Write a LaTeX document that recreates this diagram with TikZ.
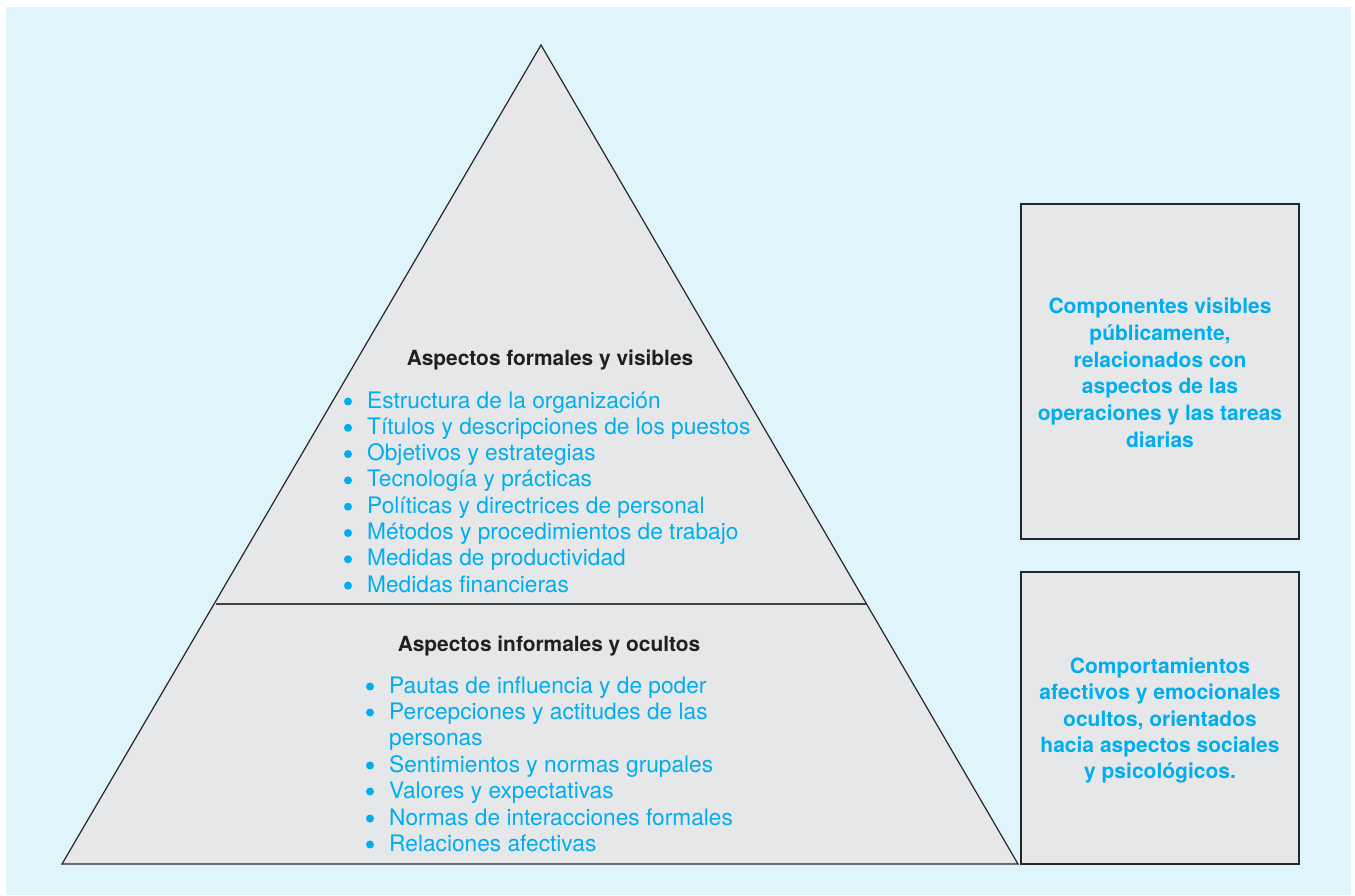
\documentclass[tikz,border=0pt]{standalone}
\usepackage{fontspec}
\setmainfont{TeX Gyre Heros}
\definecolor{bgblue}{RGB}{224,244,251}
\definecolor{pgray}{RGB}{230,231,233}
\definecolor{tcyan}{RGB}{0,174,239}
\definecolor{tdark}{RGB}{35,31,32}
\begin{document}
\begin{tikzpicture}[x=1pt,y=-1pt,
  item/.style={anchor=base west,inner sep=0pt,text=tcyan,font=\fontsize{22.7}{26}\selectfont},
  bul/.style={circle,fill=tcyan,inner sep=0pt,minimum size=8pt},
  ttl/.style={anchor=base,inner sep=0pt,text=tdark,font=\fontsize{20.9}{25}\selectfont\bfseries},
  boxline/.style={anchor=base,inner sep=0pt,text=tcyan,font=\fontsize{21}{26}\selectfont\bfseries},
  sidebox/.style={draw=black!85,line width=1.4pt,fill=pgray,minimum width=278pt,inner sep=0pt}
]
\useasboundingbox (0,0) rectangle (1355,895);
\fill[bgblue] (6,7) rectangle (1351,895);
% pyramid
\coordinate (apex) at (541,45);
\coordinate (bl) at (62,864);
\coordinate (br) at (1018,864);
\coordinate (dl) at (216,604);
\coordinate (dr) at (866,604);
\filldraw[fill=pgray,draw=black!85,line width=1.2pt,line join=miter] (apex) -- (br) -- (bl) -- cycle;
\draw[black!75,line width=1.3pt] (dl) -- (dr);
% upper section
\node[ttl] (t1) at (550,365) {Aspectos formales y visibles};
\foreach \txt [count=\i from 0] in {Estructura de la organización,Títulos y descripciones de los puestos,Objetivos y estrategias,Tecnología y prácticas,Políticas y directrices de personal,Métodos y procedimientos de trabajo,Medidas de productividad,Medidas financieras}{
  \node[bul] (ub\i) at (348,401.5+26.3*\i) {};
  \node[item] (ui\i) at (367,408+26.3*\i) {\txt};
}
% lower section
\node[ttl] (t2) at (549,651) {Aspectos informales y ocultos};
\foreach \y/\b/\txt [count=\i] in {693/1/Pautas de influencia y de poder,719/1/Percepciones y actitudes de las,745/0/personas,772/1/Sentimientos y normas grupales,798/1/Valores y expectativas,825/1/Normas de interacciones formales,851/1/Relaciones afectivas}{
  \ifnum\b=1 \node[bul] (lb\i) at (370,\y-6.5) {};\fi
  \node[item] (li\i) at (389,\y) {\txt};
}
% side boxes
\node[sidebox,minimum height=335pt] (box1) at (1160,371.5) {};
\node[sidebox,minimum height=292pt] (box2) at (1160,718) {};
\node[boxline] (b1l1) at (box1.center |- 0,313) {Componentes visibles};
\node[boxline] (b1l2) at (box1.center |- 0,340) {públicamente,};
\node[boxline] (b1l3) at (box1.center |- 0,367) {relacionados con};
\node[boxline] (b1l4) at (box1.center |- 0,393) {aspectos de las};
\node[boxline] (b1l5) at (box1.center |- 0,420) {operaciones y las tareas};
\node[boxline] (b1l6) at (box1.center |- 0,447) {diarias};
\node[boxline] (b2l1) at (box2.center |- 0,673) {Comportamientos};
\node[boxline] (b2l2) at (box2.center |- 0,699) {afectivos y emocionales};
\node[boxline] (b2l3) at (box2.center |- 0,726) {ocultos, orientados};
\node[boxline] (b2l4) at (box2.center |- 0,752) {hacia aspectos sociales};
\node[boxline] (b2l5) at (box2.center |- 0,778) {y psicológicos.};
\end{tikzpicture}
\end{document}
